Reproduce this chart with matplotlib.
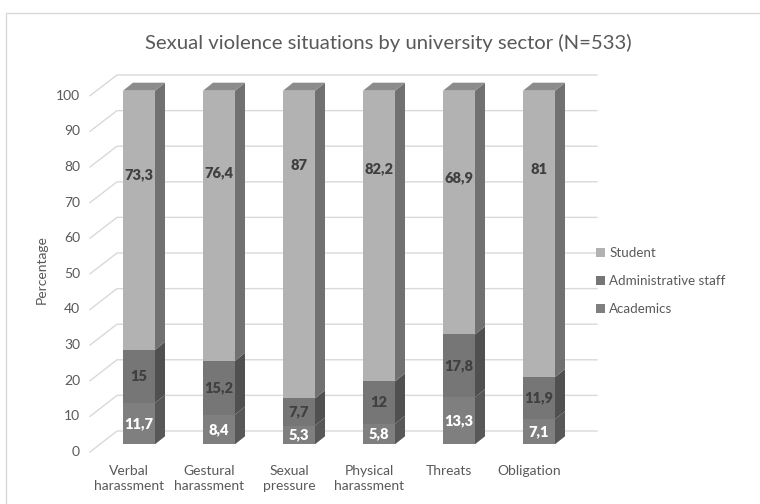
import matplotlib
matplotlib.use("Agg")
import matplotlib.pyplot as plt
from matplotlib.patches import Polygon, Patch
from matplotlib.lines import Line2D
from matplotlib.transforms import IdentityTransform

categories = ["Verbal\nharassment", "Gestural\nharassment", "Sexual\npressure",
              "Physical\nharassment", "Threats", "Obligation"]
academics = [11.7, 8.4, 5.3, 5.8, 13.3, 7.1]
admin_staff = [15, 15.2, 7.7, 12, 17.8, 11.9]
student = [73.3, 76.4, 87, 82.2, 68.9, 81]
series_names = ["Academics", "Administrative staff", "Student"]
yticks = list(range(0, 101, 10))
title = "Sexual violence situations by university sector (N=533)"
ylabel = "Percentage"

plt.rcParams["font.family"] = ["Lato", "DejaVu Sans"]

W, H = 760, 504
fig = plt.figure(figsize=(W / 100, H / 100), dpi=100)
fig.patch.set_facecolor("white")
AX_L, AX_R = 99, 579
Y0_TOP, Y100_TOP = 444.3, 90.7
ax = fig.add_axes([AX_L / W, (H - Y0_TOP) / H, (AX_R - AX_L) / W, (Y0_TOP - Y100_TOP) / H])
ax.set_xlim(-0.5, len(categories) - 0.5)
ax.set_ylim(0, 100)
ax.axis("off")
ID = IdentityTransform()
T = ax.transData

# chart border
fig.add_artist(Line2D([6, 6, W + 5], [-5, H - 13, H - 13], transform=ID, color="#d9d9d9", lw=1.0))

grid_c = "#d9d9d9"
text_c = "#595959"
# wall gridlines + tick labels
for v in yticks:
    _, yd = T.transform((0, v))
    fy = yd - 7.7 + 2.7 * v / 100
    by = yd + 13.3 + 2.4 * v / 100
    ax.add_line(Line2D([AX_L - 9, AX_L + 18, AX_R + 18], [fy, by, by],
                       transform=ID, color=grid_c, lw=1.0, zorder=1, clip_on=False))
    fig.text(80, fy, str(v), transform=ID, ha="right", va="center",
             fontsize=10, color=text_c)

series = [academics, admin_staff, student]
front_cols = ["#7f7f7f", "#767676", "#b2b2b2"]
side_cols = ["#585858", "#505050", "#717171"]
top_col = "#8c8c8c"
label_cols = ["white", "#404040", "#404040"]
DX, DY = 10, 8
BW = 0.4

for i in range(len(categories)):
    bottom = 0.0
    for s, vals in enumerate(series):
        v = vals[i]
        ax.bar(i, v, bottom=bottom, width=BW, color=front_cols[s], linewidth=0, zorder=3)
        xl, yb = T.transform((i - BW / 2, bottom))
        xr, yt = T.transform((i + BW / 2, bottom + v))
        side = Polygon([(xr, yb), (xr + DX, yb + DY), (xr + DX, yt + DY), (xr, yt)],
                       closed=True, transform=ID, facecolor=side_cols[s], edgecolor="none",
                       zorder=3, clip_on=False)
        ax.add_patch(side)
        if s == len(series) - 1:
            top = Polygon([(xl, yt), (xl + DX, yt + DY), (xr + DX, yt + DY), (xr, yt)],
                          closed=True, transform=ID, facecolor=top_col, edgecolor="none",
                          zorder=3, clip_on=False)
            ax.add_patch(top)
            ly = 81.5 - 0.2 * bottom
        else:
            ly = bottom + v / 2
        lab = f"{v:g}".replace(".", ",")
        ax.text(i, ly, lab, ha="center", va="center", fontsize=10.5, fontweight="heavy",
                color=label_cols[s], zorder=5)
        bottom += v
    # category label
    xc, _ = T.transform((i, 0))
    fig.text(xc - 10, H - 465, categories[i], transform=ID, ha="center", va="top",
             fontsize=10, color=text_c, linespacing=1.35)

fig.text(388, H - 43, title, transform=ID, ha="center", va="center", fontsize=14.6, color=text_c)
fig.text(42, H - 270, ylabel, transform=ID, ha="center", va="center", rotation=90,
         fontsize=10, color=text_c)

handles = [Patch(facecolor=front_cols[s], edgecolor="none") for s in (2, 1, 0)]
labels = [series_names[s] for s in (2, 1, 0)]
fig.legend(handles, labels, loc="center left", bbox_to_anchor=(584 / W, (H - 281) / H),
           frameon=False, fontsize=9.6, handlelength=0.7, handleheight=0.7,
           handletextpad=0.3, labelspacing=1.2, labelcolor=text_c)

fig.savefig("out.png", dpi=100)
